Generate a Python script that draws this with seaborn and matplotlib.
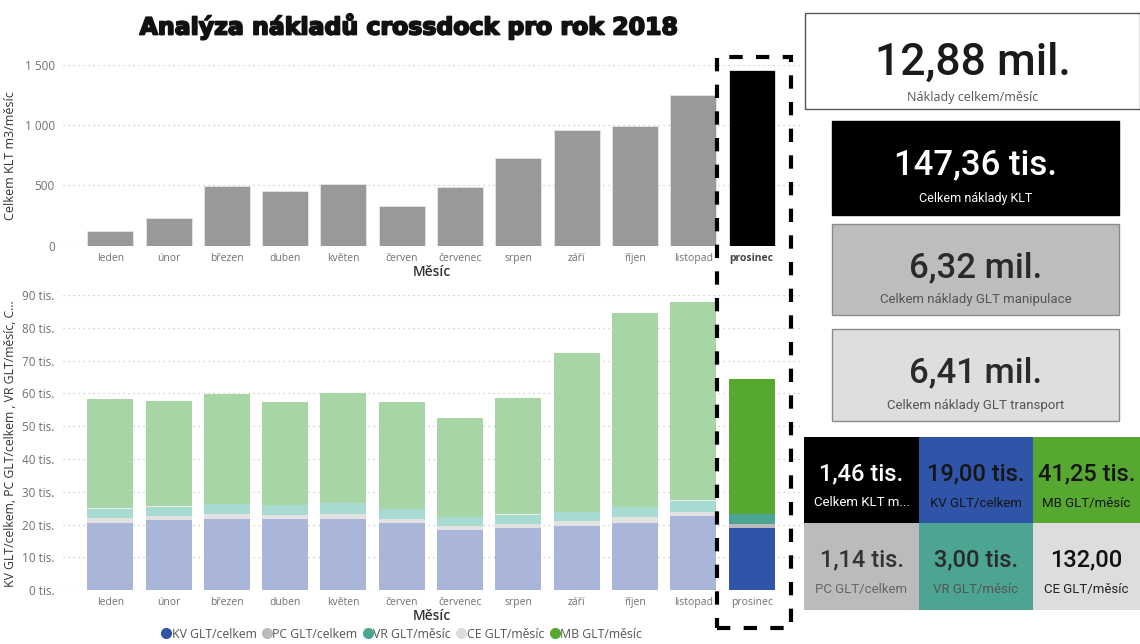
import matplotlib
matplotlib.use("Agg")
import matplotlib.pyplot as plt
from matplotlib.patches import Rectangle
from matplotlib.lines import Line2D
import matplotlib.patheffects as pe
import pandas as pd
import seaborn as sns

# ---- data -------------------------------------------------------------
months = ["leden", "únor", "březen", "duben", "květen", "červen",
          "červenec", "srpen", "září", "říjen", "listopad", "prosinec"]
selected = "prosinec"

# KLT volume per month (m3)
klt_m3 = [122, 227, 498, 451, 510, 332, 485, 730, 960, 991, 1251, 1460]

# GLT costs per month (thousands)
kv_glt = [20.5, 21.5, 21.8, 21.6, 21.8, 20.4, 18.3, 19.0, 19.7, 20.6, 22.5, 19.00]
pc_glt = [1.4, 1.2, 1.5, 1.3, 1.5, 1.3, 1.4, 1.3, 1.3, 1.7, 1.5, 1.14]
vr_glt = [3.0, 2.8, 2.9, 3.0, 3.2, 3.0, 2.5, 2.7, 2.8, 3.0, 3.3, 3.00]
ce_glt = [0.14, 0.13, 0.13, 0.14, 0.13, 0.13, 0.12, 0.13, 0.13, 0.14, 0.14, 0.132]
mb_glt = [33.3, 32.2, 33.4, 31.5, 33.5, 32.7, 30.3, 35.4, 48.3, 59.1, 60.3, 41.25]

series_names = ["KV GLT/celkem", "PC GLT/celkem", "VR GLT/měsíc", "CE GLT/měsíc", "MB GLT/měsíc"]
series_full = ["#2f54a8", "#bbbbbb", "#4ca593", "#dddddd", "#57a830"]
series_dim = ["#a9b5d9", "#e2e2e2", "#a7dbd2", "#ececec", "#a8d5a6"]

# headline totals
total_values = ["12,88 mil.", "147,36 tis.", "6,32 mil.", "6,41 mil."]
total_labels = ["Náklady celkem/měsíc", "Celkem náklady KLT",
                "Celkem náklady GLT manipulace", "Celkem náklady GLT transport"]

# ---- style ------------------------------------------------------------
sns.set_theme(style="white")
plt.rcParams["font.family"] = ["Open Sans", "DejaVu Sans"]

W, H = 1140, 644
fig = plt.figure(figsize=(W / 100, H / 100), dpi=100)
fig.patch.set_facecolor("white")


def fx(x):
    return x / W


def fy(y):
    return 1 - y / H


def ax_rect(x0, y0, x1, y1):
    return [fx(x0), fy(y1), fx(x1) - fx(x0), (y1 - y0) / H]


def style_axes(ax):
    sns.despine(ax=ax, left=True, bottom=True)
    ax.yaxis.grid(True, linestyle=(0, (1, 3)), color="#c4c4c4", linewidth=0.9)
    ax.xaxis.grid(False)
    ax.set_axisbelow(True)
    ax.tick_params(axis="both", length=0, colors="#707070")
    ax.tick_params(axis="y", labelsize=8.5, pad=6)
    ax.tick_params(axis="x", labelsize=7.5, pad=5)
    ax.set_xlim(-0.81, 11.83)


AX_X0, AX_X1 = 63, 800
AX_W = AX_X1 - AX_X0

# ---- top chart: KLT volume -------------------------------------------
ax1 = fig.add_axes(ax_rect(AX_X0, 65, AX_X1, 245.7))
df_klt = pd.DataFrame({"Měsíc": months, "m3": klt_m3})
pal = {m: ("#000000" if m == selected else "#999999") for m in months}
sns.barplot(data=df_klt, x="Měsíc", y="m3", hue="Měsíc", palette=pal,
            width=0.79, saturation=1, errorbar=None, legend=False, ax=ax1,
            edgecolor="#e6e6e6", linewidth=0.6)
ax1.set_ylim(0, 1500)
ax1.set_yticks([0, 500, 1000, 1500])
ax1.set_yticklabels([f"{v:,}".replace(",", " ") for v in [0, 500, 1000, 1500]])
style_axes(ax1)
for lbl in ax1.get_xticklabels():
    if lbl.get_text() == selected:
        lbl.set_fontweight("bold")
        lbl.set_color("#444444")
ax1.set_xlabel("Měsíc", fontsize=10, color="#333333", fontweight="semibold")
ax1.xaxis.set_label_coords((432 - AX_X0) / AX_W, -0.105)
ax1.set_ylabel("Celkem KLT m3/měsíc", fontsize=9, color="#333333")
ax1.yaxis.set_label_coords((17 - AX_X0) / AX_W, 0.5)

# ---- bottom chart: GLT cost structure --------------------------------
ax2 = fig.add_axes(ax_rect(AX_X0, 295, AX_X1, 590.3))
sel_idx = months.index(selected)
cum = [0.0] * len(months)
for vals, name, full, dim in zip([kv_glt, pc_glt, vr_glt, ce_glt, mb_glt],
                                 series_names, series_full, series_dim):
    n0 = len(ax2.patches)
    sns.barplot(x=months, y=vals, bottom=cum, color=dim, width=0.79,
                saturation=1, errorbar=None, ax=ax2, linewidth=0)
    new = ax2.patches[n0:]
    new[sel_idx].set_facecolor(full)
    cum = [c + v for c, v in zip(cum, vals)]
ax2.set_ylim(0, 90)
ticks = list(range(0, 91, 10))
ax2.set_yticks(ticks)
ax2.set_yticklabels([f"{t} tis." for t in ticks])
style_axes(ax2)
ax2.set_xlabel("Měsíc", fontsize=10, color="#333333", fontweight="semibold")
ax2.xaxis.set_label_coords((432 - AX_X0) / AX_W, -0.062)
ax2.set_ylabel("KV GLT/celkem, PC GLT/celkem , VR GLT/měsíc, C...",
               fontsize=8.8, color="#333333")
ax2.yaxis.set_label_coords((17 - AX_X0) / AX_W, 0.495)

handles = [Line2D([0], [0], marker="o", linestyle="", markersize=7,
                  markerfacecolor=c, markeredgecolor=c) for c in series_full]
fig.legend(handles, series_names, loc="center", ncol=5, frameon=False,
           bbox_to_anchor=(fx(402), fy(634)), fontsize=8.8, handlelength=0.7,
           handletextpad=0.1, columnspacing=0.5, labelcolor="#555555",
           borderaxespad=0, borderpad=0)

# ---- title ------------------------------------------------------------
fig.text(fx(409), fy(26), "Analýza nákladů crossdock pro rok 2018",
         ha="center", va="center", fontsize=17, fontweight="bold",
         family=["DejaVu Sans"], color="#111111",
         path_effects=[pe.withStroke(linewidth=1.3, foreground="#111111")])

# ---- highlight frame around the selected month -------------------------
fig.patches.append(Rectangle((fx(717), fy(628)), fx(791) - fx(717), (628 - 57) / H,
                             transform=fig.transFigure, fill=False,
                             edgecolor="black", linewidth=3,
                             linestyle=(0, (3.2, 3.2))))

# ---- KPI cards --------------------------------------------------------
card_font = ["Roboto", "DejaVu Sans"]


def card(x0, y0, x1, y1, face, edge, value, label, vsize, lsize,
         vcolor, lcolor, vy, ly, lweight="normal", lfont=None):
    fig.patches.append(Rectangle((fx(x0), fy(y1)), fx(x1) - fx(x0), (y1 - y0) / H,
                                 transform=fig.transFigure, facecolor=face,
                                 edgecolor=edge, linewidth=1.0))
    cx = fx((x0 + x1) / 2)
    fig.text(cx, fy(vy), value, ha="center", va="center", fontsize=vsize,
             color=vcolor, family=card_font, fontweight="medium")
    fig.text(cx, fy(ly), label, ha="center", va="center", fontsize=lsize,
             color=lcolor, family=lfont or card_font, fontweight=lweight)


card(805, 13, 1140, 109, "white", "#555555", total_values[0], total_labels[0],
     32, 9, "#1a1a1a", "#555555", 63, 97, lfont=["Open Sans", "DejaVu Sans"])
card(832, 121, 1119, 215, "black", "black", total_values[1], total_labels[1],
     25, 9, "white", "white", 165, 199)
card(832, 224, 1119, 315, "#bdbdbd", "#8a8a8a", total_values[2], total_labels[2],
     25, 9.5, "#2a2a2a", "#555555", 268, 300)
card(832, 329, 1119, 421, "#dedede", "#8a8a8a", total_values[3], total_labels[3],
     25, 9.5, "#2a2a2a", "#555555", 373, 406)


def fmt_tis(v):
    return f"{v:.2f}".replace(".", ",") + " tis."


sel_cells = [
    (fmt_tis(klt_m3[sel_idx] / 1000), "Celkem KLT m...", "black", "white", "white"),
    (fmt_tis(kv_glt[sel_idx]), series_names[0], series_full[0], "#151515", "#151515"),
    (fmt_tis(mb_glt[sel_idx]), series_names[4], series_full[4], "#151515", "#151515"),
    (fmt_tis(pc_glt[sel_idx]), series_names[1], series_full[1], "#333333", "#666666"),
    (fmt_tis(vr_glt[sel_idx]), series_names[2], series_full[2], "#2a2a2a", "#555555"),
    (f"{ce_glt[sel_idx] * 1000:.2f}".replace(".", ","), series_names[3], series_full[3],
     "#111111", "#222222"),
]
col_x = [804, 919, 1033, 1140]
row_y = [437, 523, 610]
for i, (val, lab, face, vc, lc) in enumerate(sel_cells):
    r, c = divmod(i, 3)
    x0, x1 = col_x[c], col_x[c + 1]
    y0, y1 = row_y[r], row_y[r + 1]
    fig.patches.append(Rectangle((fx(x0), fy(y1)), fx(x1) - fx(x0), (y1 - y0) / H,
                                 transform=fig.transFigure, facecolor=face,
                                 edgecolor="none"))
    cx = fx((x0 + x1) / 2)
    fig.text(cx, fy(y0 + 37), val, ha="center", va="center", fontsize=17,
             color=vc, family=card_font, fontweight="medium")
    fig.text(cx, fy(y0 + 66), lab, ha="center", va="center", fontsize=9.5,
             color=lc, family=card_font)

fig.savefig("out.png", dpi=100, facecolor="white")
